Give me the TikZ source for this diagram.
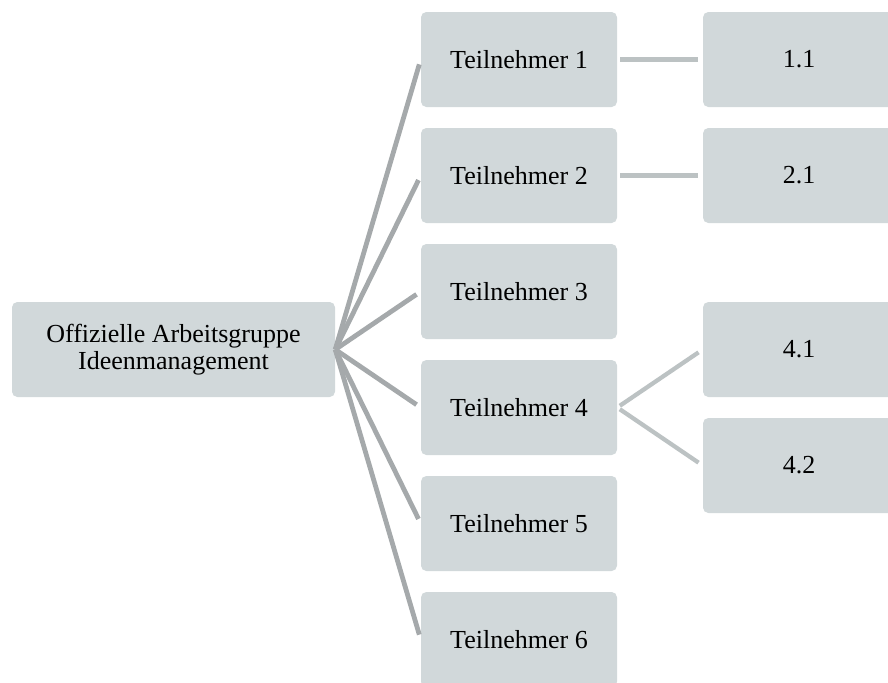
\documentclass[tikz,border=0pt]{standalone}
\usepackage{fontspec}
\setmainfont{Liberation Serif}
\definecolor{boxfill}{HTML}{D1D8DA}
\definecolor{rootline}{HTML}{A5A9AB}
\definecolor{leafline}{HTML}{BCC2C3}
\begin{document}
\begin{tikzpicture}[x=0.75pt,y=-0.75pt,
  box/.style={fill=boxfill,rounded corners=4pt,inner sep=0pt,align=center,
    font=\fontsize{19.5}{20.5}\selectfont},
  rootbox/.style={box,minimum width=242.25pt,minimum height=71.25pt},
  memberbox/.style={box,minimum width=147pt,minimum height=71.25pt},
  subbox/.style={box,minimum width=144pt,minimum height=71.25pt},
  rootlink/.style={draw=rootline,line width=3.6pt,shorten >=3.8pt},
  sublink/.style={draw=leafline,line width=3.2pt,shorten <=2.3pt,shorten >=3.8pt}]
\useasboundingbox (0,0) rectangle (888,682);
\clip (0,0) rectangle (888,682);

% root
\node[rootbox] (root) at (173.5,349.5) {Offizielle Arbeitsgruppe\\[0.2pt]Ideenmanagement};

% members
\node[memberbox] (t1) at (519,59.5) {Teilnehmer 1};
\node[memberbox] (t2) at (519,175.5) {Teilnehmer 2};
\node[memberbox] (t3) at (519,291.5) {Teilnehmer 3};
\node[memberbox] (t4) at (519,407.5) {Teilnehmer 4};
\node[memberbox] (t5) at (519,523.5) {Teilnehmer 5};
\node[memberbox] (t6) at (519,639.5) {Teilnehmer 6};

% sub items
\node[subbox] (s11) at (799,59.5) {1.1};
\node[subbox] (s21) at (799,175.5) {2.1};
\node[subbox] (s41) at (799,349.5) {4.1};
\node[subbox] (s42) at (799,465.5) {4.2};

% connectors
\foreach \t in {t1,t2,t3,t4,t5,t6}
  \draw[rootlink] (root.east) -- (\t.west);
\draw[sublink] (t1.east) -- (s11.west);
\draw[sublink] (t2.east) -- (s21.west);
\draw[sublink] (t4.east) -- (s41.west);
\draw[sublink] (t4.east) -- (s42.west);
\end{tikzpicture}
\end{document}
